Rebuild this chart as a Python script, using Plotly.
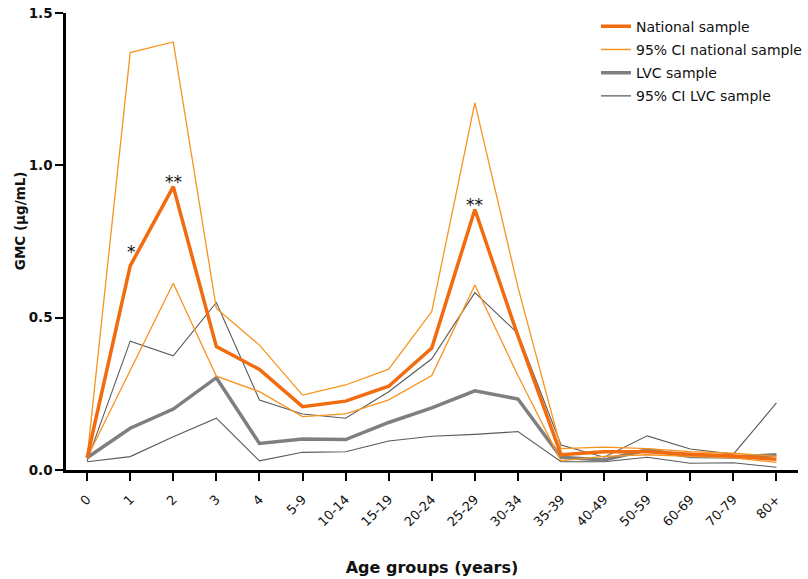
import plotly.graph_objects as go

age_groups = ["0", "1", "2", "3", "4", "5-9", "10-14", "15-19", "20-24", "25-29",
              "30-34", "35-39", "40-49", "50-59", "60-69", "70-79", "80+"]

national = [0.04, 0.67, 0.93, 0.405, 0.33, 0.208, 0.226, 0.275, 0.40, 0.855,
            0.44, 0.05, 0.06, 0.06, 0.052, 0.046, 0.035]
national_ci_upper = [0.04, 1.37, 1.405, 0.53, 0.41, 0.246, 0.279, 0.331, 0.52, 1.205,
                     0.60, 0.07, 0.075, 0.07, 0.06, 0.055, 0.045]
national_ci_lower = [0.04, 0.325, 0.613, 0.308, 0.257, 0.175, 0.184, 0.23, 0.31, 0.607,
                     0.31, 0.03, 0.045, 0.05, 0.045, 0.04, 0.025]

lvc = [0.04, 0.137, 0.20, 0.303, 0.087, 0.102, 0.10, 0.156, 0.204, 0.26,
       0.233, 0.042, 0.033, 0.066, 0.044, 0.043, 0.05]
lvc_ci_upper = [0.03, 0.423, 0.375, 0.55, 0.23, 0.184, 0.17, 0.257, 0.365, 0.582,
                0.448, 0.082, 0.042, 0.112, 0.069, 0.052, 0.22]
lvc_ci_lower = [0.027, 0.044, 0.109, 0.17, 0.03, 0.058, 0.06, 0.095, 0.111, 0.117,
                0.126, 0.027, 0.027, 0.042, 0.022, 0.024, 0.009]

# significance markers: (age group, label)
significance = [("1", "*"), ("2", "**"), ("25-29", "**")]

ORANGE = "#F26B0F"
ORANGE_LIGHT = "#F7941D"
GREY = "#7F7F7F"
GREY_DARK = "#5A5A5A"
FONT = "DejaVu Sans"

fig = go.Figure()

# LVC confidence interval
fig.add_trace(go.Scatter(x=age_groups, y=lvc_ci_upper, mode="lines",
                         line=dict(color=GREY_DARK, width=1.1),
                         name="95% CI LVC sample", legendgroup="lvcci", legendrank=4))
fig.add_trace(go.Scatter(x=age_groups, y=lvc_ci_lower, mode="lines",
                         line=dict(color=GREY_DARK, width=1.1),
                         name="95% CI LVC sample", legendgroup="lvcci", showlegend=False))
# LVC estimate
fig.add_trace(go.Scatter(x=age_groups, y=lvc, mode="lines",
                         line=dict(color=GREY, width=3.5),
                         name="LVC sample", legendgroup="lvc", legendrank=3))
# National confidence interval
fig.add_trace(go.Scatter(x=age_groups, y=national_ci_upper, mode="lines",
                         line=dict(color=ORANGE_LIGHT, width=1.3),
                         name="95% CI national sample", legendgroup="natci", legendrank=2))
fig.add_trace(go.Scatter(x=age_groups, y=national_ci_lower, mode="lines",
                         line=dict(color=ORANGE_LIGHT, width=1.3),
                         name="95% CI national sample", legendgroup="natci", showlegend=False))
# National estimate
fig.add_trace(go.Scatter(x=age_groups, y=national, mode="lines",
                         line=dict(color=ORANGE, width=3.5),
                         name="National sample", legendgroup="nat", legendrank=1))

# asterisks sit just above the national estimate
for grp, label in significance:
    yv = national[age_groups.index(grp)]
    lift = 14 if label == "*" else 5
    fig.add_annotation(x=grp, y=yv, text=label, showarrow=False, yanchor="middle",
                       yshift=lift, xshift=1 if label == "*" else 0,
                       font=dict(family=FONT, size=17, color="#111"))

# y-axis title
fig.add_annotation(xref="paper", yref="paper", x=-0.0625, y=0.545, xanchor="center",
                   yanchor="middle", textangle=-90, showarrow=False,
                   text="<b>GMC (µg/mL)</b>", font=dict(family=FONT, size=13.5, color="#111"))

fig.update_layout(
    width=808, height=579,
    margin=dict(l=66, r=0, t=13, b=109),
    paper_bgcolor="white", plot_bgcolor="white",
    font=dict(family=FONT, color="#111"),
    showlegend=True,
    legend=dict(x=0.724, y=1.005, xanchor="left", yanchor="top",
                font=dict(family=FONT, size=14, color="#111"),
                bgcolor="rgba(0,0,0,0)", itemwidth=30, tracegroupgap=2,
                traceorder="grouped"),
    xaxis=dict(type="category", range=[-0.49, 16.5],
               showline=True, linecolor="black", linewidth=2.5,
               ticks="outside", ticklen=8, tickwidth=2, tickcolor="black",
               tickangle=-45, ticklabelstandoff=6,
               tickfont=dict(family=FONT, size=13, color="#111"),
               showgrid=False, zeroline=False,
               title=dict(text="<b>Age groups (years)</b>", font=dict(family=FONT, size=16),
                          standoff=34)),
    yaxis=dict(range=[0, 1.5], tickvals=[0, 0.5, 1.0, 1.5],
               ticktext=["<b>0.0</b>", "<b>0.5</b>", "<b>1.0</b>", "<b>1.5</b>"],
               showline=True, linecolor="black", linewidth=2.5,
               ticks="outside", ticklen=8, tickwidth=2, tickcolor="black",
               tickfont=dict(family=FONT, size=13.5, color="#111"),
               showgrid=False, zeroline=False),
)

fig.write_html("out.html")
